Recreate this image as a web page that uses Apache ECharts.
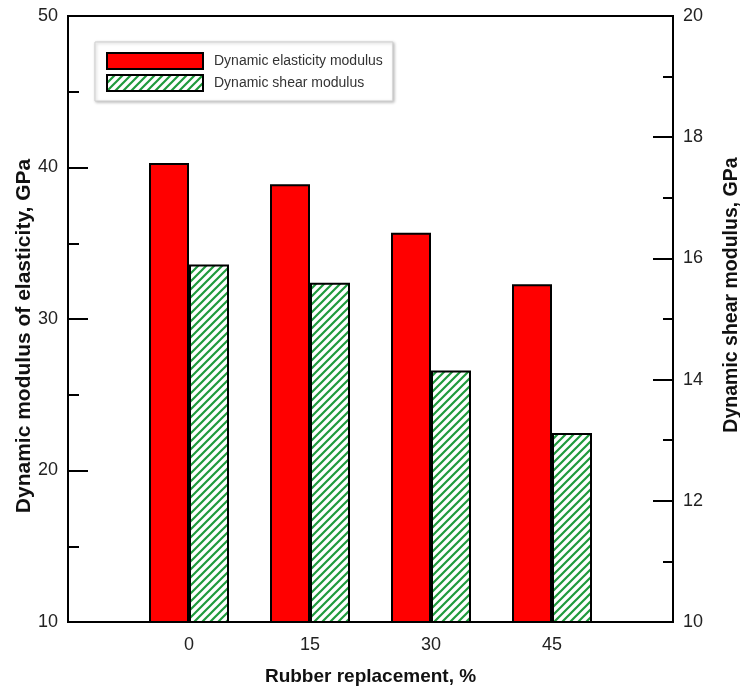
<!DOCTYPE html>
<html>
<head>
<meta charset="utf-8">
<style>
  html, body { margin: 0; padding: 0; background: #fff; overflow: hidden; }
  #chart { width: 740px; height: 688px; }
</style>
<script src="https://cdn.jsdelivr.net/npm/echarts@6/dist/echarts.min.js"></script>
</head>
<body>
<div id="chart"></div>
<script>
// Rubber replacement levels (%)
const categories = ['0', '15', '30', '45'];
// Dynamic elasticity modulus, GPa (left axis)
const elasticityModulus = [40.3, 38.9, 35.7, 32.3];
// Dynamic shear modulus, GPa (right axis)
const shearModulus = [15.9, 15.6, 14.15, 13.12];
// Axis tick settings
const leftTicks = { min: 10, max: 50, interval: 10 };
const rightTicks = { min: 10, max: 20, interval: 2 };

const FONT = '"Liberation Sans", Arial, Helvetica, sans-serif';

// Green diagonal hatch used for the shear modulus bars
function makeHatch() {
  const s = 8;
  const c = document.createElement('canvas');
  c.width = s; c.height = s;
  const g = c.getContext('2d');
  g.fillStyle = '#ffffff';
  g.fillRect(0, 0, s, s);
  g.strokeStyle = '#1f9a3c';
  g.lineWidth = 2.2;
  g.beginPath();
  g.moveTo(0, s); g.lineTo(s, 0);
  g.moveTo(-s / 2, s / 2); g.lineTo(s / 2, -s / 2);
  g.moveTo(s / 2, s + s / 2); g.lineTo(s + s / 2, s / 2);
  g.stroke();
  return { image: c, repeat: 'repeat' };
}

// One empty slot on each side of the categories, so the bars sit inward from the frame
const axisCats = [''].concat(categories, ['']);
const pad = arr => ['-'].concat(arr, ['-']);

const chart = echarts.init(document.getElementById('chart'), null, { width: 740, height: 688 });
chart.setOption({
  animation: false,
  backgroundColor: '#ffffff',
  textStyle: { fontFamily: FONT },
  grid: {
    left: 68, right: 67, top: 16, bottom: 66,
    containLabel: false,
    outerBoundsMode: 'none',
    show: true, borderColor: '#000', borderWidth: 2, backgroundColor: 'transparent'
  },
  legend: {
    orient: 'vertical',
    left: 95, top: 42,
    icon: 'rect',
    itemWidth: 96, itemHeight: 16, itemGap: 4,
    padding: [10, 10, 9, 11],
    borderColor: '#cfcfcf', borderWidth: 1,
    backgroundColor: '#fff',
    shadowColor: 'rgba(0,0,0,0.25)', shadowBlur: 3, shadowOffsetX: 1, shadowOffsetY: 1,
    textStyle: { fontFamily: FONT, fontSize: 14, lineHeight: 16, color: '#333', padding: [0, 0, 0, 6] },
    data: ['Dynamic elasticity modulus', 'Dynamic shear modulus']
  },
  xAxis: {
    type: 'category',
    data: axisCats,
    boundaryGap: false,
    name: 'Rubber replacement, %',
    nameLocation: 'middle',
    nameGap: 45,
    nameMoveOverlap: false,
    nameTextStyle: { fontFamily: FONT, fontSize: 19, fontWeight: 'bold', color: '#111' },
    axisLine: { show: true, lineStyle: { color: '#000', width: 2 } },
    axisTick: { show: false },
    axisLabel: { fontFamily: FONT, fontSize: 18, color: '#222', margin: 14 },
    splitLine: { show: false }
  },
  yAxis: [
    {
      type: 'value',
      position: 'left',
      min: leftTicks.min, max: leftTicks.max, interval: leftTicks.interval,
      name: 'Dynamic modulus of elasticity, GPa',
      nameLocation: 'middle',
      nameRotate: 90,
      nameGap: 33,
      nameMoveOverlap: false,
      nameTextStyle: { fontFamily: FONT, fontSize: 21, fontWeight: 'bold', color: '#111', padding: [0, 34, 0, 0] },
      axisLine: { show: true, lineStyle: { color: '#000', width: 2 } },
      axisTick: { show: true, inside: true, length: 20, lineStyle: { color: '#000', width: 2 } },
      minorTick: { show: true, splitNumber: 2, length: 11, lineStyle: { color: '#000', width: 2 } },
      axisLabel: { fontFamily: FONT, fontSize: 18, color: '#222', margin: 10 },
      splitLine: { show: false }
    },
    {
      type: 'value',
      position: 'right',
      min: rightTicks.min, max: rightTicks.max, interval: rightTicks.interval,
      name: 'Dynamic shear modulus, GPa',
      nameLocation: 'middle',
      nameRotate: 90,
      nameGap: 49,
      nameMoveOverlap: false,
      nameTextStyle: { fontFamily: FONT, fontSize: 19.5, fontWeight: 'bold', color: '#111', padding: [0, 0, 0, 48] },
      axisLine: { show: true, lineStyle: { color: '#000', width: 2 } },
      axisTick: { show: true, inside: true, length: 20, lineStyle: { color: '#000', width: 2 } },
      minorTick: { show: true, splitNumber: 2, length: 10, lineStyle: { color: '#000', width: 2 } },
      axisLabel: { fontFamily: FONT, fontSize: 18, color: '#222', margin: 10 },
      splitLine: { show: false }
    }
  ],
  series: [
    {
      name: 'Dynamic elasticity modulus',
      type: 'bar',
      yAxisIndex: 0,
      barWidth: 40,
      barGap: '0%',
      itemStyle: { color: '#ff0000', borderColor: '#000', borderWidth: 2 },
      data: pad(elasticityModulus)
    },
    {
      name: 'Dynamic shear modulus',
      type: 'bar',
      yAxisIndex: 1,
      barWidth: 40,
      barGap: '0%',
      itemStyle: { color: makeHatch(), borderColor: '#000', borderWidth: 2 },
      data: pad(shearModulus)
    }
  ]
});
</script>
</body>
</html>
